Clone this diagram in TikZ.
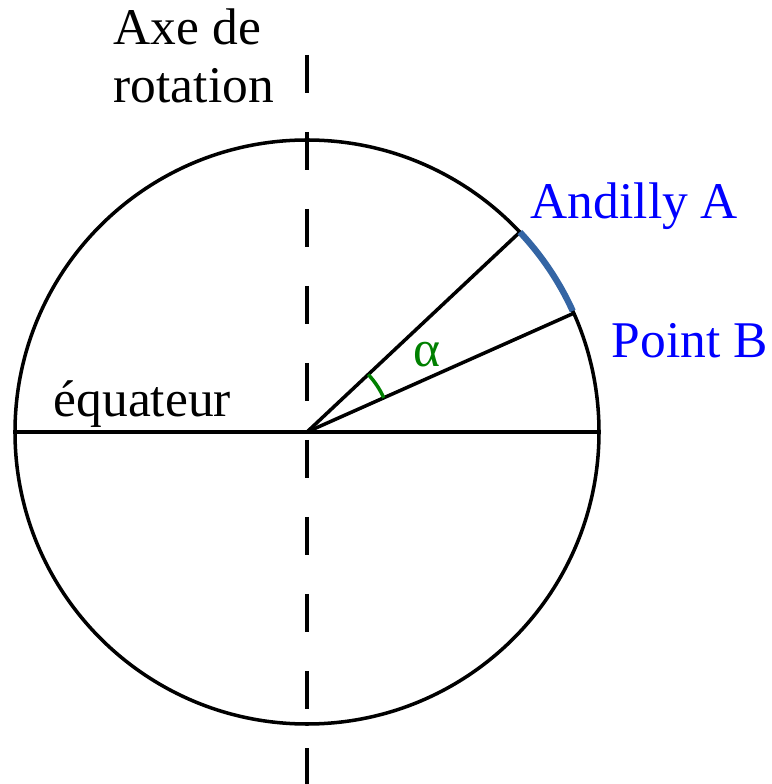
\documentclass[tikz,border=0pt]{standalone}
\usepackage{fontspec}
\setmainfont{Liberation Serif}
\definecolor{arcblue}{RGB}{52,101,164}
\definecolor{labgreen}{RGB}{0,128,0}

\begin{document}
\begin{tikzpicture}[line width=2pt,
  lab/.style={font=\fontsize{29.3}{35}\selectfont,inner sep=0pt,anchor=base west}]
\useasboundingbox (-6.140,-7.040) rectangle (9.280,8.640);
\coordinate (O) at (0,0);
\coordinate (W) at (180:5.84);
\coordinate (E) at (0:5.84);
\coordinate (A) at (43.2:5.84);
\coordinate (B) at (24.0:5.84);
\coordinate (top) at (0,7.540);
\coordinate (bot) at (0,-7.040);
\draw (O) circle (5.84);
\draw (W) -- (E);
\draw[dash pattern=on 0.76cm off 0.78cm] (top) -- (bot);
\draw (O) -- (A);
\draw (O) -- (B);
\draw[arcblue,line width=3.6pt] (24.5:5.84) arc (24.5:43.2:5.84);
\draw[labgreen] (24.0:1.68) arc (24.0:43.2:1.68);
\node[lab] (axe1) at (-3.900,7.740) {Axe de};
\node[lab] (axe2) at (-3.900,6.580) {rotation};
\node[lab,blue] (andilly) at (4.440,4.260) {Andilly A};
\node[lab,blue] (pointb) at (6.060,1.480) {Point B};
\node[lab] (equateur) at (-5.100,0.300) {équateur};
\node[lab,labgreen] (alpha) at (2.100,1.300) {α};
\end{tikzpicture}
\end{document}
